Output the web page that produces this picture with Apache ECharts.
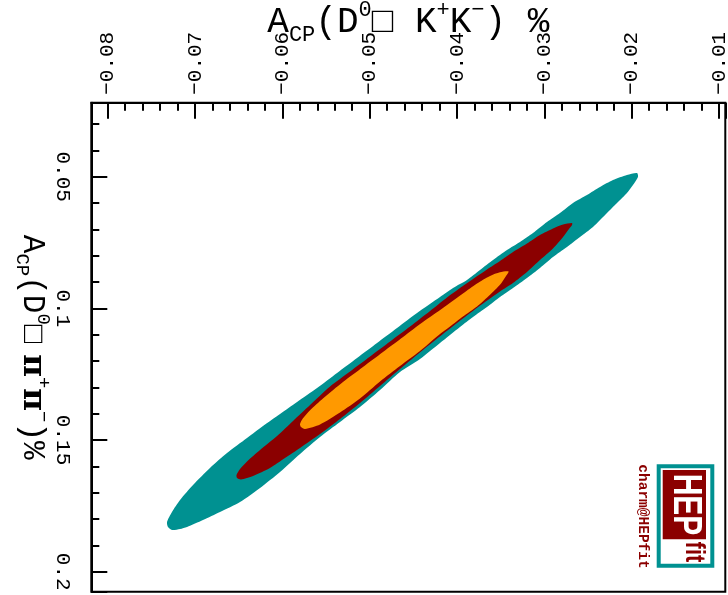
<!DOCTYPE html>
<html>
<head>
<meta charset="utf-8">
<script src="https://cdn.jsdelivr.net/npm/echarts@6/dist/echarts.min.js"></script>
<style>html,body{margin:0;padding:0;background:#fff;}#chart{width:728px;height:595px;}</style>
</head>
<body>
<div id="chart"></div>
<script>
// Axis ranges (A_CP values in %)
const xRange = [-0.08188, -0.00928];   // A_CP(D0 -> K+K-)
const yRange = [0.02193, 0.2076];      // A_CP(D0 -> pi+pi-)
const xMajorStep = 0.01;
const yMajorStep = 0.05;

// Contour boundaries: [A_CP(KK), A_CP(pipi)]
const tealUpper = [[-0.01939,0.04859],[-0.02054,0.04935],[-0.02214,0.05125],[-0.02363,0.05391],[-0.02512,0.05695],[-0.02672,0.05999],[-0.02821,0.06379],[-0.02970,0.06720],[-0.03130,0.07138],[-0.03279,0.07480],[-0.03428,0.07784],[-0.03588,0.08164],[-0.03737,0.08543],[-0.03886,0.08923],[-0.04046,0.09227],[-0.04195,0.09569],[-0.04458,0.10177],[-0.04687,0.10746],[-0.04916,0.11316],[-0.05145,0.11886],[-0.05374,0.12455],[-0.05603,0.13025],[-0.05832,0.13557],[-0.06027,0.14012],[-0.06222,0.14468],[-0.06405,0.14924],[-0.06634,0.15494],[-0.06829,0.16063],[-0.07023,0.16709],[-0.07172,0.17279],[-0.07264,0.17734],[-0.07321,0.18114],[-0.07310,0.18304]];
const tealLower = [[-0.07264,0.18418],[-0.07172,0.18380],[-0.07092,0.18304],[-0.06909,0.18038],[-0.06714,0.17734],[-0.06485,0.17355],[-0.06256,0.16823],[-0.06027,0.16215],[-0.05798,0.15532],[-0.05569,0.14886],[-0.05340,0.14316],[-0.05111,0.13747],[-0.04882,0.13101],[-0.04653,0.12417],[-0.04424,0.11924],[-0.04195,0.11316],[-0.03966,0.10708],[-0.03817,0.10328],[-0.03657,0.09949],[-0.03508,0.09569],[-0.03359,0.09227],[-0.03199,0.08847],[-0.03050,0.08468],[-0.02901,0.08050],[-0.02741,0.07670],[-0.02592,0.07290],[-0.02443,0.06910],[-0.02283,0.06379],[-0.02168,0.05999],[-0.02054,0.05619],[-0.01985,0.05315],[-0.01928,0.05011]];
const redUpper = [[-0.02683,0.06758],[-0.02786,0.06815],[-0.02901,0.06967],[-0.03050,0.07214],[-0.03199,0.07537],[-0.03359,0.07860],[-0.03508,0.08202],[-0.03657,0.08524],[-0.03817,0.08885],[-0.03966,0.09227],[-0.04115,0.09588],[-0.04309,0.10101],[-0.04538,0.10689],[-0.04767,0.11259],[-0.04996,0.11829],[-0.05225,0.12398],[-0.05454,0.12968],[-0.05683,0.13671],[-0.05878,0.14278],[-0.06061,0.14848],[-0.06256,0.15380],[-0.06405,0.15816],[-0.06485,0.16101],[-0.06525,0.16329],[-0.06519,0.16443]];
const redLower = [[-0.06474,0.16500],[-0.06336,0.16367],[-0.06142,0.16063],[-0.05970,0.15684],[-0.05798,0.15304],[-0.05569,0.14772],[-0.05340,0.14202],[-0.05111,0.13595],[-0.04882,0.12949],[-0.04653,0.12303],[-0.04390,0.11582],[-0.04161,0.10974],[-0.03932,0.10385],[-0.03702,0.09816],[-0.03508,0.09360],[-0.03359,0.09037],[-0.03199,0.08619],[-0.03050,0.08164],[-0.02901,0.07727],[-0.02786,0.07290],[-0.02718,0.06986],[-0.02683,0.06834]];
const orangeUpper = [[-0.03410,0.08600],[-0.03508,0.08630],[-0.03622,0.08768],[-0.03771,0.09053],[-0.03932,0.09433],[-0.04161,0.09984],[-0.04390,0.10515],[-0.04618,0.11085],[-0.04848,0.11655],[-0.05077,0.12224],[-0.05306,0.12794],[-0.05535,0.13421],[-0.05683,0.13867],[-0.05764,0.14172],[-0.05798,0.14392],[-0.05787,0.14506]];
const orangeLower = [[-0.05741,0.14582],[-0.05569,0.14413],[-0.05340,0.13959],[-0.05111,0.13427],[-0.04882,0.12781],[-0.04653,0.12193],[-0.04424,0.11623],[-0.04195,0.10977],[-0.04080,0.10692],[-0.03932,0.10313],[-0.03771,0.09933],[-0.03622,0.09486],[-0.03508,0.09105],[-0.03439,0.08771]];

const contours = [
  {name: '3 sigma', pts: tealUpper.concat(tealLower), color: '#009191'},
  {name: '2 sigma', pts: redUpper.concat(redLower), color: '#8b0000'},
  {name: '1 sigma', pts: orangeUpper.concat(orangeLower), color: '#ff9900'}
];

const MONO = '"Liberation Mono", "DejaVu Sans Mono", monospace';
const chart = echarts.init(document.getElementById('chart'), null, {renderer: 'canvas'});

function isMultiple(v, step) {
  const r = v / step;
  return Math.abs(r - Math.round(r)) < 1e-6;
}
function fmt(v) { return String(+v.toFixed(2)).replace('-', '\u2212'); }

function rich(size) {
  const small = Math.round(size * 0.6);
  const lh = Math.round(size * 1.3);
  return {
    a: {fontFamily: MONO, fontSize: size, color: '#000', lineHeight: lh},
    s: {fontFamily: MONO, fontSize: small, color: '#000', verticalAlign: 'bottom', lineHeight: lh},
    p: {fontFamily: MONO, fontSize: small, color: '#000', verticalAlign: 'top', lineHeight: lh},
    g: {fontFamily: '"DejaVu Serif", serif', fontSize: size, fontWeight: 'bold', color: '#000', lineHeight: lh}
  };
}

const option = {
  animation: false,
  backgroundColor: '#fff',
  grid: {left: 91.3, top: 102.8, right: 2.7, bottom: 3.3, containLabel: false, outerBoundsMode: 'none',
         show: true, borderColor: '#000', borderWidth: 2, backgroundColor: 'transparent'},
  xAxis: {
    type: 'value', position: 'top', min: xRange[0], max: xRange[1], splitNumber: 7,
    name: '{a|A}{s|CP}{a|(D}{p|0}{a|□ K}{p|+}{a|K}{p|−}{a|) %}',
    nameLocation: 'middle', nameGap: 57, nameMoveOverlap: false,
    nameTextStyle: {rich: rich(36)},
    axisLine: {show: true, lineStyle: {color: '#000', width: 2}},
    axisTick: {show: true, inside: true, length: 16, lineStyle: {color: '#000', width: 2}},
    minorTick: {show: true, splitNumber: 5, length: 8, lineStyle: {color: '#000', width: 2}},
    splitLine: {show: false},
    axisLabel: {
      rotate: -90, margin: 8, fontFamily: MONO, fontSize: 21, color: '#000',
      formatter: v => isMultiple(v, xMajorStep) ? fmt(v) : ''
    }
  },
  yAxis: {
    type: 'value', inverse: true, min: yRange[0], max: yRange[1], splitNumber: 4,
    name: '{a|A}{s|CP}{a|(D}{p|0}{a|□}{g| π}{p|+}{g|π}{p|−}{a|)%}',
    nameLocation: 'middle', nameGap: 39, nameRotate: -90, nameMoveOverlap: false,
    nameTextStyle: {rich: rich(31)},
    axisLine: {show: true, lineStyle: {color: '#000', width: 2}},
    axisTick: {show: true, inside: true, length: 16, lineStyle: {color: '#000', width: 2}},
    minorTick: {show: true, splitNumber: 5, length: 8, lineStyle: {color: '#000', width: 2}},
    splitLine: {show: false},
    axisLabel: {
      rotate: -90, margin: 18, fontFamily: MONO, fontSize: 21, color: '#000',
      formatter: v => isMultiple(v, yMajorStep) ? fmt(v) : ''
    }
  },
  series: contours.map((c, i) => ({
    type: 'custom', name: c.name, silent: true, clip: true, z: 2 + i,
    data: [c.pts[0]],
    renderItem: function (params, api) {
      return {
        type: 'polygon',
        shape: {points: c.pts.map(p => api.coord(p)), smooth: 0.25},
        style: {fill: c.color, stroke: null}
      };
    }
  })),
  graphic: [
    {type: 'rect', shape: {x: 658.7, y: 466.3, width: 53.6, height: 99.4}, style: {fill: '#fff', stroke: '#009191', lineWidth: 4}, z: 10},
    {type: 'rect', shape: {x: 662.7, y: 470, width: 43.3, height: 69.3}, style: {fill: '#8b0000'}, z: 11},
    {type: 'text', x: 685, y: 504.5, rotation: -Math.PI / 2, scaleY: 1.35, style: {text: 'HEP', font: 'bold 30px "Liberation Sans", Arial, sans-serif', fill: '#fff', align: 'center', verticalAlign: 'middle'}, z: 12},
    {type: 'text', x: 694, y: 552, rotation: -Math.PI / 2, scaleY: 1.25, style: {text: 'fit', font: 'bold 22px "Liberation Sans", Arial, sans-serif', fill: '#8b0000', align: 'center', verticalAlign: 'middle'}, z: 12},
    {type: 'text', x: 643, y: 516.5, rotation: -Math.PI / 2, style: {text: 'charm@HEPfit', font: 'bold 14.5px ' + MONO, fill: '#8b0000', align: 'center', verticalAlign: 'middle'}, z: 12}
  ]
};
chart.setOption(option);
</script>
</body>
</html>
